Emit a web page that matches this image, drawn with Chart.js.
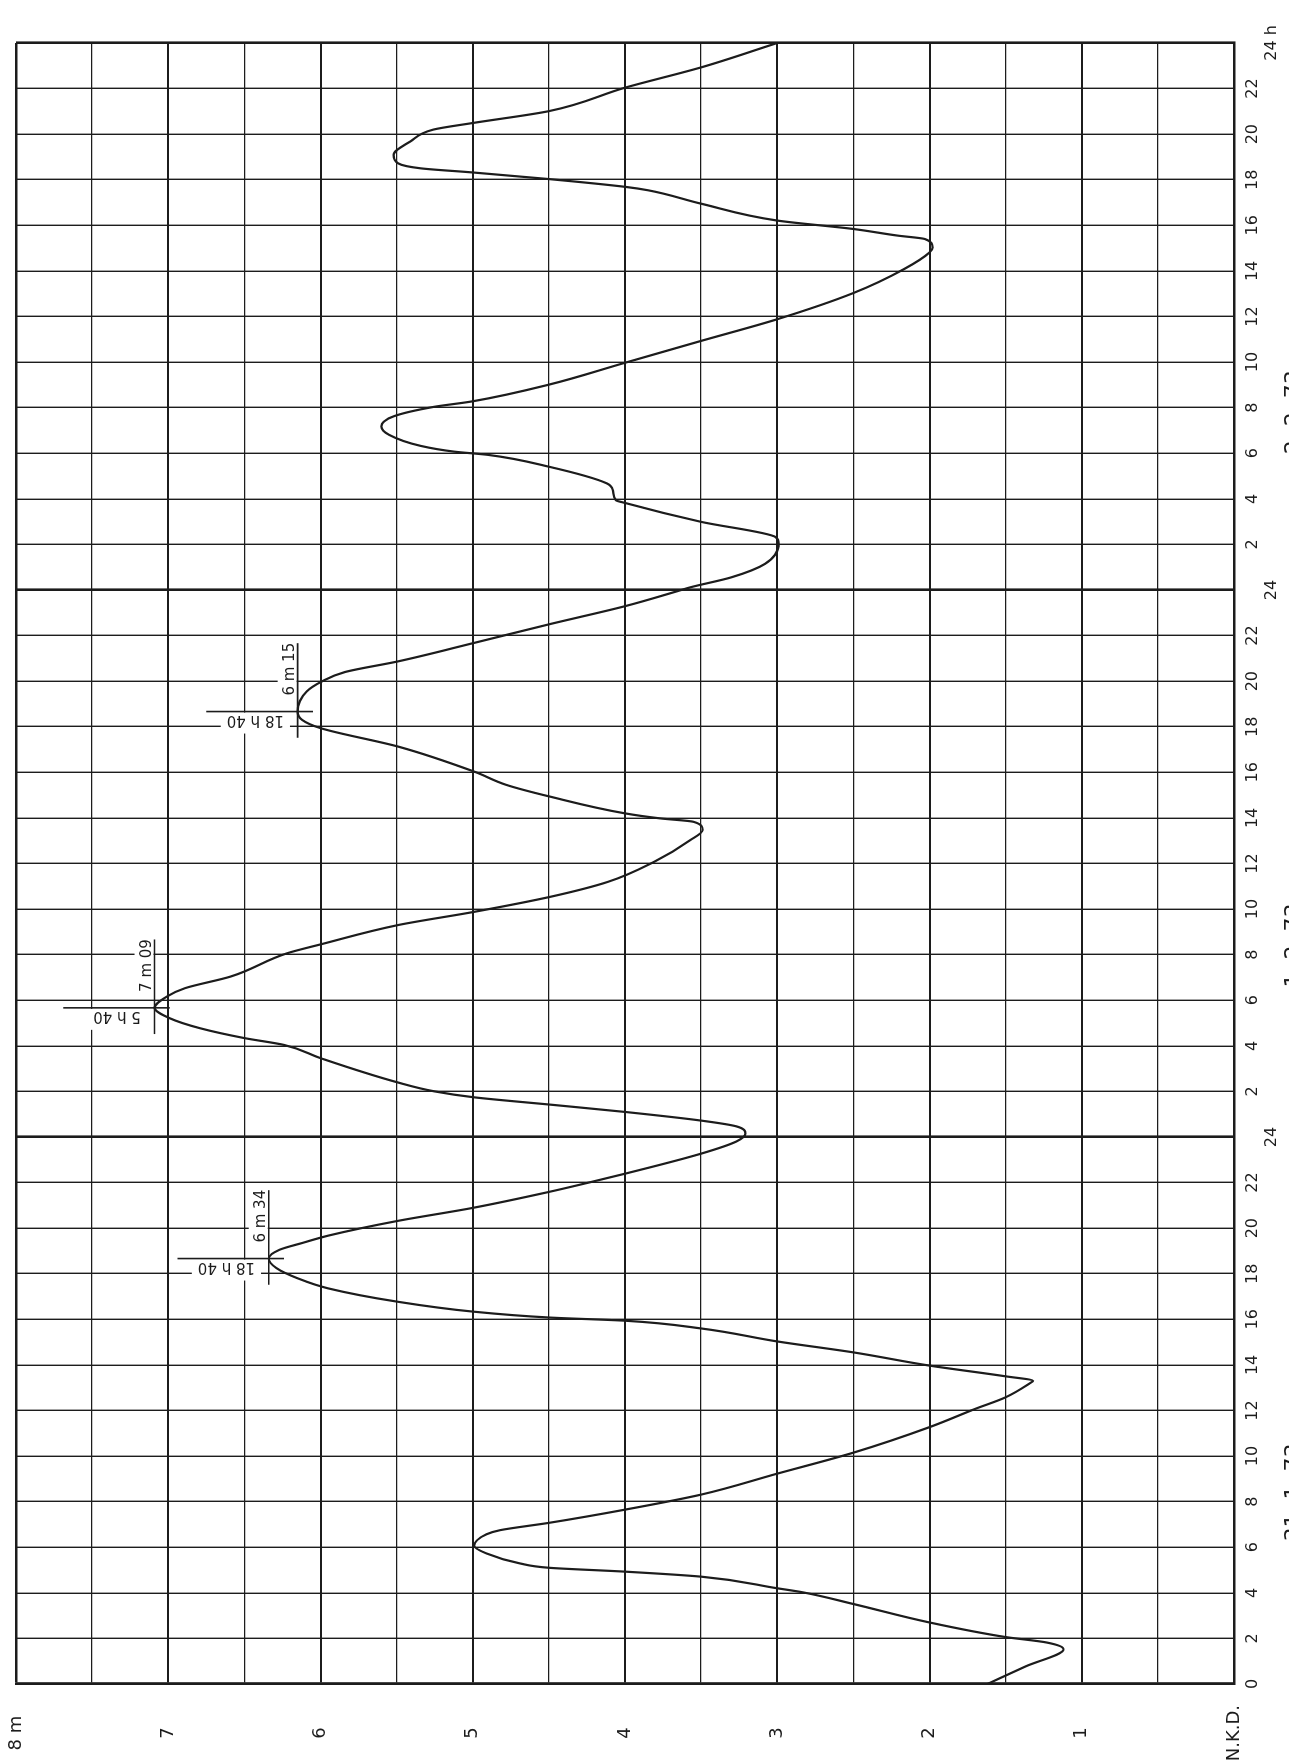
<!DOCTYPE html>
<html lang="de">
<head>
<meta charset="utf-8">
<title>Pegelkurve 31.1. – 2.2.1973</title>
<script src="https://cdn.jsdelivr.net/npm/chart.js@4.4.1/dist/chart.umd.min.js"></script>
<style>
  html, body { margin: 0; padding: 0; background: #fff; overflow: hidden; }
  /* the recorder sheet is drawn landscape and turned a quarter turn left */
  #sheet {
    position: absolute; left: 0; top: 0;
    width: 1764px; height: 1289px;
    transform-origin: 0 0;
    transform: translate(0, 1764px) rotate(-90deg);
  }
</style>
</head>
<body>
<div id="sheet"><canvas id="tide" width="1764" height="1289"></canvas></div>
<script>
// time in hours since 31.1.73 0 h, water level in metres above N.K.D.
const hours = [
  0, 0.77, 1.53, 1.82, 2.06, 2.7, 3.51, 4.02, 4.2, 4.71, 4.93, 5.1, 5.29, 5.73, 6.06,
  6.57, 6.75, 7.07, 7.65, 8.31, 9.23, 10.15, 11.27, 12.07, 12.58, 13.2, 13.3, 13.5,
  13.97, 14.55, 15.03, 15.6, 15.94, 16.08, 16.34, 16.78, 17.36, 17.8, 18.25, 18.667,
  19.05, 19.35, 19.67, 20.31, 20.89, 21.59, 22.03, 22.39, 23.27, 23.8, 24.15, 24.47,
  24.72, 25.1, 25.42, 25.74, 26.0, 26.39, 27.46, 28.04, 28.34, 28.77, 29.21, 29.667,
  30.16, 30.53, 31.04, 32.06, 32.45, 33.3, 33.88, 34.54, 35.2, 36.07, 37.03, 37.47,
  37.83, 37.98, 38.2, 38.93, 39.45, 40.03, 41.13, 41.94, 42.3, 42.667, 43.55, 43.99,
  44.4, 44.87, 45.68, 46.51, 47.29, 47.98, 48.12, 48.56, 49.15, 50.05, 50.32, 50.99,
  51.82, 51.94, 52.38, 52.68, 53.41, 53.93, 54.07, 54.32, 54.81, 55.18, 55.62, 56.03,
  56.28, 57.01, 57.97, 58.93, 59.88, 61.03, 62.07, 62.81, 63.03, 63.4, 63.55, 63.84,
  64.21, 64.95, 65.54, 65.69, 66.03, 66.32, 66.5, 66.72, 67.09, 67.68, 68.2, 68.49,
  69.01, 70.04, 70.93, 72
];
const levels = [
  1.62, 1.37, 1.12, 1.23, 1.5, 2.0, 2.5, 2.83, 3.0, 3.5, 4.0, 4.5, 4.69, 4.91, 4.99,
  4.91, 4.82, 4.5, 4.0, 3.5, 3.0, 2.5, 2.0, 1.7, 1.5, 1.34, 1.32, 1.5,
  2.0, 2.5, 3.0, 3.5, 4.0, 4.5, 5.0, 5.5, 5.95, 6.15, 6.29, 6.34,
  6.27, 6.12, 5.95, 5.5, 5.0, 4.5, 4.22, 4.0, 3.5, 3.27, 3.21, 3.27,
  3.5, 4.0, 4.49, 4.99, 5.25, 5.49, 6.0, 6.24, 6.5, 6.79, 6.99, 7.09,
  7.01, 6.89, 6.59, 6.22, 6.0, 5.49, 4.99, 4.49, 4.11, 3.81, 3.57, 3.49,
  3.55, 3.77, 4.0, 4.49, 4.78, 4.99, 5.49, 6.0, 6.12, 6.15, 6.09, 5.99,
  5.84, 5.49, 4.99, 4.49, 4.0, 3.64, 3.57, 3.3, 3.08, 2.99, 3.01, 3.5,
  4.0, 4.06, 4.08, 4.12, 4.5, 4.9, 5.12, 5.34, 5.55, 5.6, 5.52, 5.26,
  5.0, 4.5, 4.0, 3.5, 3.0, 2.5, 2.17, 2.0, 1.98, 2.03, 2.21, 2.5,
  3.0, 3.5, 3.85, 4.0, 4.5, 5.0, 5.34, 5.49, 5.52, 5.41, 5.26, 5.0,
  4.5, 4.0, 3.5, 3.0
];

// high waters with their written time and height
const peakHours = [18.667, 29.667, 42.667];
const peakLevels = [6.34, 7.09, 6.15];
const peakTimeText = ['18 h 40', '5 h 40', '18 h 40'];
const peakLevelText = ['6 m 34', '7 m 09', '6 m 15'];

const dayDates = ['31. 1. 73', '1. 2. 73', '2. 2. 73'];
const dateHours = [8.4, 32.4, 55.8];

const FONT = "'DejaVu Sans', 'Liberation Sans', sans-serif";
const INK = '#1c1c1c';

function hourLabel(v) {
  if (v === 0) return '0';
  if (v === 72) return ['', '24 h'];
  if (v % 24 === 0) return ['', '24'];
  return String(v % 24);
}

function levelLabel(v) {
  if (v === 0) return 'N.K.D.';
  if (v === 8) return '8 m';
  return Number.isInteger(v) ? String(v) : '';
}

// captions and marker lines at each high water
const peakMarks = {
  id: 'peakMarks',
  beforeDatasetsDraw(chart) {
    const { ctx, scales: { x, y } } = chart;
    ctx.save();
    ctx.font = '15px ' + FONT;
    peakHours.forEach((tp, i) => {
      const lp = peakLevels[i];
      const px = x.getPixelForValue(tp);
      const py = y.getPixelForValue(lp);
      const levelX = x.getPixelForValue(tp + 0.7);
      const levelW = ctx.measureText(peakLevelText[i]).width;
      const timeY = y.getPixelForValue(lp + 0.09);
      const timeW = ctx.measureText(peakTimeText[i]).width;

      // blank paper behind the captions
      ctx.fillStyle = '#fff';
      ctx.fillRect(levelX - 6, py - 20, levelW + 12, 19);
      ctx.fillRect(px - 22, timeY - timeW - 6, 21, timeW + 12);

      // time marker across the crest, level marker along it
      ctx.strokeStyle = INK;
      ctx.lineWidth = 1.6;
      ctx.beginPath();
      ctx.moveTo(px, y.getPixelForValue(lp - 0.1));
      ctx.lineTo(px, y.getPixelForValue(lp + 0.6));
      ctx.moveTo(x.getPixelForValue(tp - 1.15), py);
      ctx.lineTo(x.getPixelForValue(tp + 3.0), py);
      ctx.stroke();

      ctx.fillStyle = INK;
      ctx.textAlign = 'left';
      ctx.textBaseline = 'alphabetic';
      ctx.fillText(peakLevelText[i], levelX, py - 4);

      ctx.save();
      ctx.translate(px - 4, timeY);
      ctx.rotate(-Math.PI / 2);
      ctx.fillText(peakTimeText[i], 0, 0);
      ctx.restore();
    });
    ctx.restore();
  },
  afterDraw(chart) {
    const { ctx, scales: { x } } = chart;
    ctx.save();
    ctx.fillStyle = INK;
    ctx.font = '22px ' + FONT;
    ctx.textAlign = 'center';
    ctx.textBaseline = 'top';
    dayDates.forEach((d, i) => {
      ctx.fillText(d, x.getPixelForValue(dateHours[i]), 1283);
    });
    ctx.restore();
  }
};

new Chart(document.getElementById('tide'), {
  type: 'line',
  data: {
    datasets: [{
      data: hours.map((h, i) => ({ x: h, y: levels[i] })),
      borderColor: INK,
      borderWidth: 2.2,
      pointRadius: 0,
      cubicInterpolationMode: 'monotone',
      fill: false
    }]
  },
  options: {
    responsive: false,
    devicePixelRatio: 1,
    animation: false,
    layout: { padding: { top: 16, right: 43, left: 0, bottom: 0 } },
    plugins: { legend: { display: false }, tooltip: { enabled: false } },
    scales: {
      x: {
        type: 'linear',
        position: 'bottom',
        min: 0,
        max: 72,
        afterFit: scale => {
          scale.height = 55;
          scale.paddingLeft = 0;
          scale.paddingRight = 0;
        },
        border: { display: true, width: 2.5, color: INK },
        grid: {
          drawTicks: false,
          color: INK,
          lineWidth: c => (c.tick && c.tick.value % 24 === 0) ? 2.6 : 1.4
        },
        ticks: {
          stepSize: 2,
          autoSkip: false,
          maxRotation: 0,
          padding: 9,
          color: INK,
          font: { family: FONT, size: 16 },
          callback: hourLabel
        }
      },
      y: {
        min: 0,
        max: 8,
        afterFit: scale => {
          scale.width = 80;
          scale.paddingTop = 0;
          scale.paddingBottom = 0;
        },
        border: { display: true, width: 2.5, color: INK },
        grid: {
          drawTicks: false,
          color: INK,
          lineWidth: c => {
            const v = c.tick ? c.tick.value : 0;
            if (v === 8) return 2.6;
            return Number.isInteger(v) ? 2 : 1.3;
          }
        },
        ticks: {
          stepSize: 0.5,
          autoSkip: false,
          crossAlign: 'center',
          padding: 21,
          color: INK,
          font: { family: FONT, size: 18 },
          callback: levelLabel
        }
      }
    }
  },
  plugins: [peakMarks]
});
</script>
</body>
</html>
